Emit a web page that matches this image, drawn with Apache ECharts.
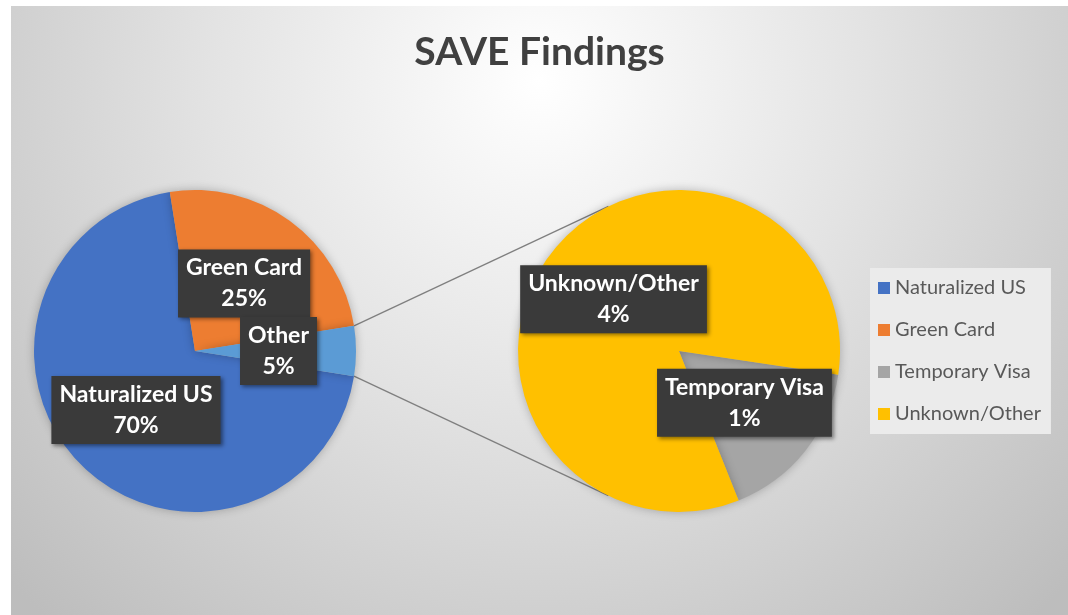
<!DOCTYPE html>
<html>
<head>
<meta charset="utf-8">
<title>SAVE Findings</title>
<script src="https://cdn.jsdelivr.net/npm/echarts@6/dist/echarts.min.js"></script>
<style>
  html, body { margin: 0; padding: 0; background: #ffffff; }
  #chart { position: absolute; left: 11px; top: 6px; width: 1057px; height: 609px; }
</style>
</head>
<body>
<div id="chart"></div>
<script>
// 主饼图：三类
const mainNames = ['Naturalized US', 'Green Card', 'Other']
const mainValues = [70, 25, 5]
// 次饼图：拆开 "Other"
const subNames = ['Temporary Visa', 'Unknown/Other']
const subValues = [0.83, 4.17]
const legendNames = ['Naturalized US', 'Green Card', 'Temporary Visa', 'Unknown/Other']

const colors = {
  'Naturalized US': '#4472C4',
  'Green Card': '#ED7D31',
  'Other': '#5B9BD5',
  'Temporary Visa': '#A5A5A5',
  'Unknown/Other': '#FFC000'
}

const chartDom = document.getElementById('chart')
const chart = echarts.init(chartDom)

// 饼图几何（容器坐标）
const leftCenter = [184, 345]
const rightCenter = [668, 345]
const radius = 161
const mainStart = -9
const subStart = -8.5

const labelStyle = {
  show: true,
  position: 'inside',
  formatter: (p) => p.name + '\n' + Math.round(p.value) + '%',
  color: '#ffffff',
  fontFamily: 'Lato',
  fontWeight: 'bold',
  fontSize: 23,
  lineHeight: 31,
  backgroundColor: '#3a3a3a',
  padding: [3, 8, 3, 8],
  shadowColor: 'rgba(0,0,0,0.45)',
  shadowBlur: 4,
  shadowOffsetX: 2,
  shadowOffsetY: 2
}

// 连接线：从 "Other" 扇区两侧边缘到次饼图
function pointOnCircle (c, deg) {
  // deg 为从正上方顺时针的角度
  const rad = deg * Math.PI / 180
  return [c[0] + radius * Math.sin(rad), c[1] - radius * Math.cos(rad)]
}
const total = mainValues.reduce((a, b) => a + b, 0)
const otherStartDeg = 90 - mainStart + (mainValues[0] + mainValues[1]) / total * 360
const otherEndDeg = otherStartDeg + mainValues[2] / total * 360
const p1 = pointOnCircle(leftCenter, otherStartDeg)
const p2 = pointOnCircle(leftCenter, otherEndDeg)
const q1 = pointOnCircle(rightCenter, 334)
const q2 = pointOnCircle(rightCenter, 206)

const option = {
  backgroundColor: new echarts.graphic.RadialGradient(0.5, 0.12, 1.2, [
    { offset: 0, color: '#ffffff' },
    { offset: 0.45, color: '#e3e3e3' },
    { offset: 1, color: '#bdbdbd' }
  ]),
  title: {
    text: 'SAVE Findings',
    left: 'center',
    top: 22,
    textStyle: {
      fontFamily: 'Lato',
      fontWeight: 'bold',
      fontSize: 39,
      color: '#404040'
    }
  },
  legend: {
    orient: 'vertical',
    left: 859,
    top: 262,
    data: legendNames,
    icon: 'rect',
    itemWidth: 12,
    itemHeight: 12,
    itemGap: 22,
    padding: [10, 10, 10, 8],
    backgroundColor: '#ebebeb',
    textStyle: {
      fontFamily: 'Lato',
      fontSize: 20,
      lineHeight: 20,
      color: '#595959'
    }
  },
  graphic: [
    {
      type: 'line',
      z: 0,
      shape: { x1: p1[0], y1: p1[1], x2: q1[0], y2: q1[1] },
      style: { stroke: '#7f7f7f', lineWidth: 1.3 }
    },
    {
      type: 'line',
      z: 0,
      shape: { x1: p2[0], y1: p2[1], x2: q2[0], y2: q2[1] },
      style: { stroke: '#7f7f7f', lineWidth: 1.3 }
    }
  ],
  series: [
    {
      type: 'pie',
      name: 'main',
      center: leftCenter,
      radius: [0, radius],
      startAngle: mainStart,
      clockwise: true,
      avoidLabelOverlap: false,
      silent: true,
      label: labelStyle,
      labelLine: { show: false },
      labelLayout: { hideOverlap: false },
      itemStyle: {
        shadowColor: 'rgba(0,0,0,0.25)',
        shadowBlur: 10
      },
      data: mainNames.map((n, i) => ({ name: n, value: mainValues[i], itemStyle: { color: colors[n] } }))
    },
    {
      type: 'pie',
      name: 'sub',
      center: rightCenter,
      radius: [0, radius],
      startAngle: subStart,
      clockwise: true,
      avoidLabelOverlap: false,
      silent: true,
      label: labelStyle,
      labelLine: { show: false },
      labelLayout: { hideOverlap: false },
      itemStyle: {
        shadowColor: 'rgba(0,0,0,0.25)',
        shadowBlur: 10
      },
      data: subNames.map((n, i) => ({ name: n, value: subValues[i], itemStyle: { color: colors[n] } }))
    }
  ]
}

chart.setOption(option)
</script>
</body>
</html>
